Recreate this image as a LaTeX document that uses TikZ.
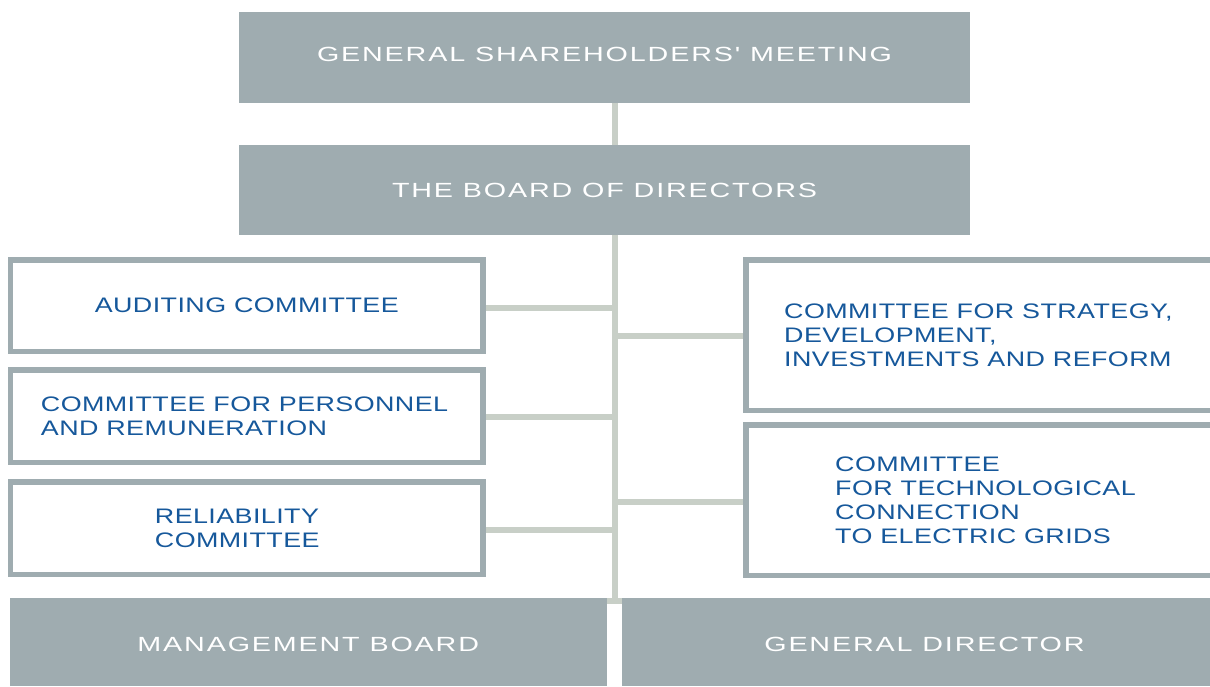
\documentclass[tikz,border=0pt]{standalone}
\usepackage{fontspec}
\setmainfont{Liberation Sans}
\newfontfamily\bluefont[FakeStretch=1.28,LetterSpace=2]{Liberation Sans}
\newfontfamily\whitefont[FakeStretch=1.4,LetterSpace=9]{Liberation Sans}
\definecolor{boxgrey}{RGB}{159,172,176}
\definecolor{linkgrey}{RGB}{200,207,199}
\definecolor{textblue}{RGB}{22,88,155}
\begin{document}
\begin{tikzpicture}[x=1pt,y=-1pt,
  filledbox/.style={fill=boxgrey, draw=none, inner sep=0pt, text=white,
    font=\whitefont\fontsize{20.5}{24}\selectfont},
  framebox/.style={draw=boxgrey, line width=5.5pt, fill=white, inner sep=0pt},
  boxtext/.style={inner sep=0pt, align=left, text=textblue,
    font=\bluefont\fontsize{21}{24}\selectfont},
  link/.style={draw=linkgrey, line width=5.5pt}]
\useasboundingbox (0,0) rectangle (1210,686);
\coordinate (trunk) at (615,0);
\coordinate (trunk-end) at (615,603);

% governing bodies
\node[filledbox, minimum width=731pt, minimum height=91pt, text depth=6pt] (gsm) at (604.5,57.5) {GENERAL SHAREHOLDERS' MEETING};
\node[filledbox, minimum width=731pt, minimum height=90pt] (bod) at (604.5,190) {THE BOARD OF DIRECTORS};

% committees, left column
\node[framebox, minimum width=472.5pt, minimum height=91.5pt] (aud) at (246.75,305.5) {};
\node[boxtext] (aud-t) at (aud.center) {AUDITING COMMITTEE};
\node[framebox, minimum width=472.5pt, minimum height=92.5pt] (pers) at (246.75,416) {};
\node[boxtext, anchor=west] (pers-t) at ([xshift=33pt]pers.west) {COMMITTEE FOR PERSONNEL\\AND REMUNERATION};
\node[framebox, minimum width=472.5pt, minimum height=92.5pt] (rel) at (246.75,528) {};
\node[boxtext, anchor=west] (rel-t) at ([xshift=147pt]rel.west) {RELIABILITY\\COMMITTEE};

% committees, right column
\node[framebox, minimum width=500pt, minimum height=150.5pt] (strat) at (995.75,335) {};
\node[boxtext, anchor=west] (strat-t) at ([xshift=41pt]strat.west) {COMMITTEE FOR STRATEGY,\\DEVELOPMENT,\\INVESTMENTS AND REFORM};
\node[framebox, minimum width=500pt, minimum height=150.5pt] (tech) at (995.75,500) {};
\node[boxtext, anchor=west] (tech-t) at ([xshift=92pt]tech.west) {COMMITTEE\\FOR TECHNOLOGICAL\\CONNECTION\\TO ELECTRIC GRIDS};

% executive bodies
\node[filledbox, minimum width=597.5pt, minimum height=88pt, text height=19.5pt] (mb) at (308.25,642) {MANAGEMENT BOARD};
\node[filledbox, minimum width=605pt, minimum height=88pt, text height=19.5pt] (gd) at (924.5,642) {GENERAL DIRECTOR};

% connectors
\draw[link] (gsm.south -| trunk) -- (bod.north -| trunk);
\draw[link] (bod.south -| trunk) -- (trunk-end);
\draw[link, line width=6pt] ([yshift=-3pt]mb.north east) -- ([yshift=-3pt]gd.north west);
\draw[link] ([yshift=-2.5pt]aud.east) -- ([yshift=-2.5pt]aud.east -| trunk);
\draw[link] ([yshift=-1pt]pers.east) -- ([yshift=-1pt]pers.east -| trunk);
\draw[link] ([yshift=-2pt]rel.east) -- ([yshift=-2pt]rel.east -| trunk);
\draw[link] ([yshift=-1pt]trunk |- strat.west) -- ([yshift=-1pt]strat.west);
\draw[link] ([yshift=-2pt]trunk |- tech.west) -- ([yshift=-2pt]tech.west);
\end{tikzpicture}
\end{document}
